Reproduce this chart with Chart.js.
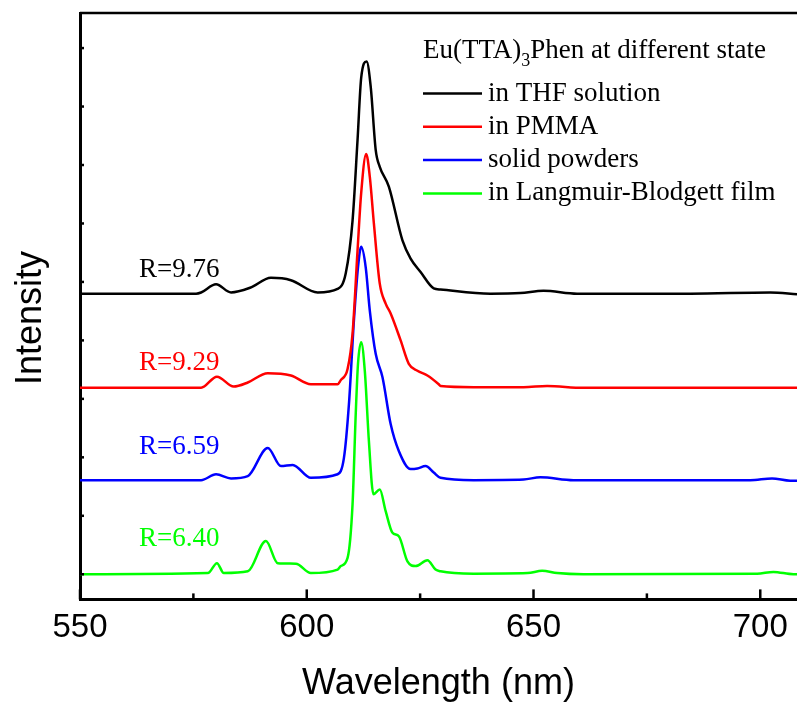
<!DOCTYPE html>
<html>
<head>
<meta charset="utf-8">
<script src="https://cdn.jsdelivr.net/npm/chart.js@4/dist/chart.umd.min.js"></script>
<style>
  html, body { margin: 0; padding: 0; background: #fff; }
  #chart { display: block; }
</style>
</head>
<body>
<canvas id="chart" width="797" height="702"></canvas>
<script>
// wavelength (nm) / intensity (offset, arbitrary units)
const thfX = [550, 575.6, 576.7, 580.0, 583.3, 587.5, 592.1, 596.5, 602.4, 606.8, 608.6, 610.1, 611.2, 612.0, 613.2, 614.1, 615.2, 616.1, 618.1, 621.1, 622.9, 625.1, 628.0, 629.5, 640.5, 647.1, 652.2, 659.6, 684.6, 702.2, 708.1];
const thfY = [4.80, 4.80, 4.82, 4.96, 4.82, 4.90, 5.07, 5.03, 4.82, 4.88, 5.15, 6.05, 7.43, 8.49, 8.77, 8.34, 7.26, 6.97, 6.63, 5.71, 5.40, 5.17, 4.89, 4.87, 4.80, 4.81, 4.85, 4.80, 4.80, 4.82, 4.79];

const pmmaX = [550, 576.7, 580.2, 583.9, 587.0, 591.4, 596.5, 600.9, 606.8, 607.5, 609.0, 610.1, 611.2, 612.0, 613.1, 613.9, 614.8, 616.1, 617.4, 618.5, 620.7, 622.5, 624.4, 626.6, 629.1, 629.5, 636.8, 647.8, 653.0, 661.0, 708.1];
const pmmaY = [3.19, 3.19, 3.38, 3.21, 3.28, 3.44, 3.40, 3.25, 3.25, 3.32, 3.51, 4.12, 5.54, 6.52, 7.19, 6.80, 6.00, 4.97, 4.63, 4.46, 4.00, 3.60, 3.48, 3.40, 3.25, 3.22, 3.20, 3.20, 3.22, 3.19, 3.19];

const powderX = [550, 576.7, 580.0, 583.3, 587.0, 591.4, 594.3, 596.9, 600.9, 606.8, 608.2, 609.3, 610.4, 611.3, 612.0, 613.0, 613.9, 615.2, 616.7, 618.5, 620.3, 622.9, 624.4, 626.2, 628.0, 629.5, 636.8, 647.8, 651.5, 658.8, 697.8, 702.6, 706.6, 708.1];
const powderY = [1.61, 1.61, 1.71, 1.64, 1.68, 2.16, 1.85, 1.87, 1.65, 1.71, 1.99, 2.91, 4.34, 5.25, 5.60, 5.25, 4.51, 3.77, 3.37, 2.57, 2.11, 1.80, 1.81, 1.85, 1.74, 1.65, 1.61, 1.62, 1.66, 1.61, 1.61, 1.64, 1.60, 1.60];

const lbX = [550, 578.2, 580.2, 581.7, 587.0, 591.0, 593.6, 597.6, 600.9, 606.8, 607.5, 609.0, 610.1, 610.8, 611.3, 612.0, 612.8, 613.7, 614.7, 616.1, 617.4, 618.9, 620.3, 622.2, 624.0, 626.6, 628.4, 629.5, 636.8, 648.7, 651.9, 655.2, 661.0, 699.3, 702.9, 707.3, 708.1];
const lbY = [0.00, 0.02, 0.19, 0.02, 0.05, 0.57, 0.19, 0.18, 0.02, 0.08, 0.14, 0.28, 1.20, 2.74, 3.60, 3.97, 3.48, 2.28, 1.37, 1.45, 1.08, 0.71, 0.65, 0.22, 0.14, 0.24, 0.08, 0.05, 0.01, 0.02, 0.06, 0.02, 0.00, 0.01, 0.04, 0.00, 0.00];

const seriesNames = ['in THF solution', 'in PMMA', 'solid powders', 'in Langmuir-Blodgett film'];
const seriesColors = ['#000000', '#ff0000', '#0000ff', '#00ff00'];
const ratioLabels = ['R=9.76', 'R=9.29', 'R=6.59', 'R=6.40'];
const ratioPos = [[563, 5.09], [563, 3.49], [563, 2.06], [563, 0.48]];

const xMajor = [550, 600, 650, 700];
const xMinor = [575, 625, 675];
const yTicks = [0, 1, 2, 3, 4, 5, 6, 7, 8, 9];

function pts(xs, ys) {
  return xs.map((x, i) => ({ x: x, y: ys[i] }));
}

const sets = [[thfX, thfY], [pmmaX, pmmaY], [powderX, powderY], [lbX, lbY]];

// frame, inward ticks, legend, R labels, y title
const decor = {
  id: 'decor',
  afterDraw(chart) {
    const ctx = chart.ctx;
    const a = chart.chartArea;
    const xs = chart.scales.x, ys = chart.scales.y;
    ctx.save();
    ctx.strokeStyle = '#000';
    ctx.lineWidth = 2.5;
    ctx.beginPath();
    ctx.moveTo(a.left, a.top);
    ctx.lineTo(a.right, a.top);
    ctx.stroke();

    xMajor.forEach(v => {
      const px = xs.getPixelForValue(v);
      ctx.beginPath(); ctx.moveTo(px, a.bottom); ctx.lineTo(px, a.bottom - 10); ctx.stroke();
    });
    xMinor.forEach(v => {
      const px = xs.getPixelForValue(v);
      ctx.beginPath(); ctx.moveTo(px, a.bottom); ctx.lineTo(px, a.bottom - 6); ctx.stroke();
    });
    yTicks.forEach(v => {
      const py = ys.getPixelForValue(v);
      ctx.beginPath(); ctx.moveTo(a.left, py); ctx.lineTo(a.left + 4, py); ctx.stroke();
    });

    // R labels
    ctx.font = '27px "Liberation Serif"';
    ctx.textBaseline = 'alphabetic';
    ctx.textAlign = 'left';
    ratioLabels.forEach((t, i) => {
      ctx.fillStyle = seriesColors[i];
      ctx.fillText(t, xs.getPixelForValue(ratioPos[i][0]), ys.getPixelForValue(ratioPos[i][1]));
    });

    // legend
    ctx.fillStyle = '#000';
    let lx = 423;
    ctx.fillText('Eu(TTA)', lx, 58);
    lx += ctx.measureText('Eu(TTA)').width;
    ctx.font = '18px "Liberation Serif"';
    ctx.fillText('3', lx, 66);
    lx += ctx.measureText('3').width;
    ctx.font = '27px "Liberation Serif"';
    ctx.fillText('Phen at different state', lx, 58);
    chart.data.datasets.forEach((ds, i) => {
      const ly = 93.5 + i * 33.3;
      ctx.strokeStyle = ds.borderColor;
      ctx.lineWidth = 2.5;
      ctx.beginPath(); ctx.moveTo(423, ly); ctx.lineTo(482, ly); ctx.stroke();
      ctx.fillStyle = '#000';
      ctx.fillText(ds.label, 488, ly + 7);
    });

    // y title
    ctx.translate(31, 318);
    ctx.rotate(-Math.PI / 2);
    ctx.font = '36px "Liberation Sans"';
    ctx.textAlign = 'center';
    ctx.textBaseline = 'middle';
    ctx.fillStyle = '#000';
    ctx.fillText('Intensity', 0, 0);
    ctx.restore();
  }
};

new Chart(document.getElementById('chart'), {
  type: 'line',
  data: {
    datasets: sets.map((s, i) => ({
      label: seriesNames[i],
      data: pts(s[0], s[1]),
      borderColor: seriesColors[i],
      borderWidth: 2.5,
      pointRadius: 0,
      fill: false,
      cubicInterpolationMode: 'monotone'
    }))
  },
  options: {
    responsive: false,
    animation: false,
    layout: { padding: { left: 80, top: 13, right: 0, bottom: 0 } },
    plugins: { legend: { display: false }, tooltip: { enabled: false } },
    scales: {
      x: {
        type: 'linear',
        min: 550,
        max: 708.1,
        afterBuildTicks: axis => { axis.ticks = xMajor.map(v => ({ value: v })); },
        grid: { display: false, drawTicks: false },
        border: { display: true, color: '#000', width: 3 },
        ticks: {
          color: '#000',
          padding: 9,
          maxRotation: 0,
          font: { family: '"Liberation Sans"', size: 33 }
        },
        title: {
          display: true,
          text: 'Wavelength (nm)',
          color: '#000',
          font: { family: '"Liberation Sans"', size: 36, lineHeight: 1 },
          padding: { top: 9, bottom: 0 }
        }
      },
      y: {
        min: -0.43,
        max: 9.6,
        grid: { display: false, drawTicks: false },
        border: { display: true, color: '#000', width: 3 },
        ticks: { display: false }
      }
    }
  },
  plugins: [decor]
});
</script>
</body>
</html>
